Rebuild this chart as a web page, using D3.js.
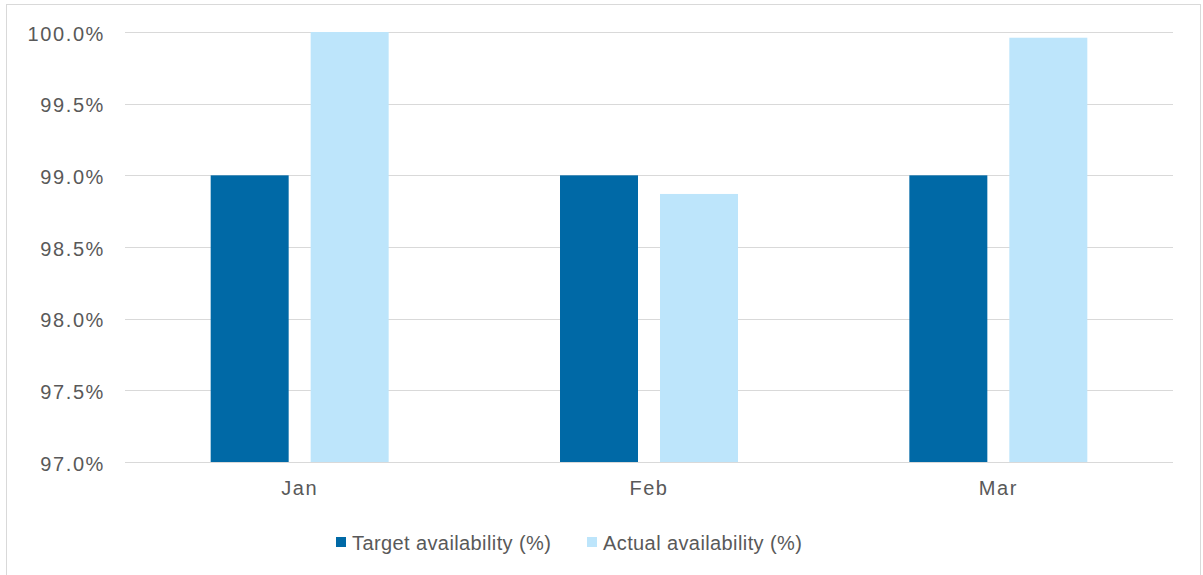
<!DOCTYPE html>
<html>
<head>
<meta charset="utf-8">
<script src="https://cdn.jsdelivr.net/npm/d3@7"></script>
<style>
  body { margin: 0; background: #fff; }
  text { font-family: "Liberation Sans", Arial, sans-serif; fill: #595959; }
</style>
</head>
<body>
<div id="chart"></div>
<script>
// Data
const months = ["Jan", "Feb", "Mar"];
const series = ["Target availability (%)", "Actual availability (%)"];
const target = [99.0, 99.0, 99.0];
const actual = [100.0, 98.87, 99.96];
const yTicks = [97.0, 97.5, 98.0, 98.5, 99.0, 99.5, 100.0];
const colors = ["#0069A6", "#BDE5FB"];

const width = 1203, height = 575;
const plot = {left: 125, right: 1173, top: 32, bottom: 462};

const svg = d3.select("#chart")
    .append("svg")
    .attr("width", width)
    .attr("height", height);

// Outer chart border
svg.append("rect")
    .attr("x", 6.5)
    .attr("y", 4.5)
    .attr("width", 1194)
    .attr("height", 600)
    .attr("fill", "none")
    .attr("stroke", "#d9d9d9");

// Scales
const x0 = d3.scaleBand()
    .domain(months)
    .range([plot.left, plot.right])
    .paddingInner(0.4905)
    .paddingOuter(0.4905 / 2);

const x1 = d3.scaleBand()
    .domain(series)
    .range([0, x0.bandwidth()])
    .paddingInner(0.22);

const y = d3.scaleLinear()
    .domain([97, 100])
    .range([plot.bottom, plot.top]);

// Gridlines
svg.append("g")
    .selectAll("line")
    .data(yTicks)
    .enter()
    .append("line")
    .attr("x1", plot.left)
    .attr("x2", plot.right)
    .attr("y1", d => Math.round(y(d)) + 0.5)
    .attr("y2", d => Math.round(y(d)) + 0.5)
    .attr("stroke", "#d9d9d9")
    .attr("stroke-width", 1.2);

// Y axis labels
const yAxis = svg.append("g")
    .attr("transform", `translate(${plot.left - 20},0)`)
    .call(d3.axisLeft(y).tickValues(yTicks).tickSize(0).tickFormat(d => d.toFixed(1) + "%"));
yAxis.select(".domain").remove();
yAxis.selectAll("text")
    .attr("x", 0)
    .attr("dy", "0.4em")
    .style("font-size", "20px")
    .style("letter-spacing", "1.6px")
    .style("fill", "#595959")
    .style("font-family", "'Liberation Sans', Arial, sans-serif");

// Bars
const rows = months.map((m, i) => ({month: m, values: [target[i], actual[i]]}));

const groups = svg.selectAll(".month")
    .data(rows)
    .enter()
    .append("g")
    .attr("class", "month")
    .attr("transform", d => `translate(${x0(d.month)},0)`);

groups.selectAll("rect")
    .data(d => d.values.map((v, j) => ({key: series[j], value: v, color: colors[j]})))
    .enter()
    .append("rect")
    .attr("x", d => x1(d.key))
    .attr("y", d => y(d.value))
    .attr("width", x1.bandwidth())
    .attr("height", d => y(97) - y(d.value))
    .attr("fill", d => d.color);

// X axis labels
const xAxis = svg.append("g")
    .attr("transform", `translate(0,${plot.bottom})`)
    .call(d3.axisBottom(x0).tickSize(0));
xAxis.select(".domain").remove();
xAxis.selectAll("text")
    .attr("y", 19)
    .attr("dy", "0.71em")
    .style("font-size", "20px")
    .style("letter-spacing", "1.5px")
    .style("fill", "#595959")
    .style("font-family", "'Liberation Sans', Arial, sans-serif");

// Legend
const legendX = [336, 587];
const legend = svg.append("g");
series.forEach((s, i) => {
    legend.append("rect")
        .attr("x", legendX[i])
        .attr("y", 537)
        .attr("width", 10)
        .attr("height", 10)
        .attr("fill", colors[i]);
    legend.append("text")
        .attr("x", legendX[i] + 16)
        .attr("y", 550)
        .style("font-size", "20px")
        .style("letter-spacing", "0.4px")
        .text(s);
});
</script>
</body>
</html>
